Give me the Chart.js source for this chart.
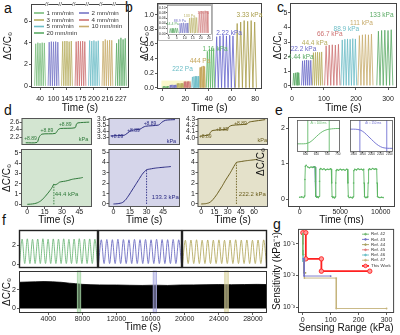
<!DOCTYPE html>
<html>
<head>
<meta charset="utf-8">
<script src="https://cdn.jsdelivr.net/npm/chart.js@4/dist/chart.umd.min.js"></script>
<style>
  html, body { margin: 0; padding: 0; background: #fff; }
  #fig { position: relative; width: 400px; height: 335px; overflow: hidden; font-family: 'Liberation Sans', Arial, sans-serif; }
  #fig canvas { position: absolute; }
  .lt { position: absolute; font-size: 14px; line-height: 14px; color: #111; }
</style>
</head>
<body>
<div id="fig">
  <div class="lt" style="left:4px;top:1px">a</div>
  <div class="lt" style="left:125px;top:0px">b</div>
  <div class="lt" style="left:277px;top:0px">c</div>
  <div class="lt" style="left:4px;top:103px">d</div>
  <div class="lt" style="left:275px;top:103px">e</div>
  <div class="lt" style="left:2px;top:213px">f</div>
  <div class="lt" style="left:273px;top:217px">g</div>
</div>
<script>
// ---------- data ----------
// a: loading speed
const aSpeeds = ['1 mm/min', '2 mm/min', '3 mm/min', '4 mm/min', '5 mm/min', '10 mm/min', '20 mm/min'];
const aTimeTicks = ['40', '100', '145', '175', '200', '216', '227'];
const aPeaks = [
  [3.9, 4.0, 3.95, 4.0, 3.98],
  [4.05, 4.1, 4.08, 4.1, 4.05],
  [4.12, 4.15, 4.15, 4.1, 4.15],
  [4.1, 4.15, 4.12, 4.15, 4.1],
  [4.2, 4.15, 4.2, 4.12, 4.18],
  [4.15, 4.3, 4.2, 4.25, 4.22],
  [3.95, 4.3, 4.45, 4.3, 4.4]
];
const aFloor = 0.02;

// b: low pressures
const bLoads = ['44.4 Pa', '88.9 Pa', '133 Pa', '178 Pa', '222 Pa', '444 Pa', '1.11 kPa', '2.22 kPa', '3.33 kPa'];
const bStart = [0.5, 6.5, 12.5, 18.5, 25.5, 32, 38, 45.5, 63];
const bPeriod = [1.1, 1.1, 1.1, 1.2, 1.2, 1.3, 1.8, 2.8, 3.0];
const bPeaks = [
  [0.02, 0.021, 0.02, 0.022, 0.021],
  [0.04, 0.041, 0.042, 0.04, 0.041],
  [0.06, 0.062, 0.061, 0.063, 0.062],
  [0.085, 0.087, 0.086, 0.088, 0.087],
  [0.15, 0.155, 0.16, 0.158, 0.16],
  [0.28, 0.29, 0.3, 0.29],
  [0.5, 0.53, 0.55, 0.54],
  [0.7, 0.71, 0.72, 0.71, 0.72, 0.71],
  [0.88, 0.9, 0.92, 0.91, 0.92, 0.9]
];

// c: high pressures
const cLoads = ['4.44 kPa', '22.2 kPa', '44.4 kPa', '66.7 kPa', '88.9 kPa', '111 kPa', '133 kPa'];
const cStart = [3, 30, 64, 102, 153, 206, 265];
const cPeriod = [5.25, 6.4, 6.4, 9.6, 8.2, 9.4, 10];
const cPeaks = [
  [0.88, 0.9, 0.92, 0.9],
  [1.72, 1.75, 1.78, 1.75, 1.76],
  [2.28, 2.3, 2.32, 2.3, 2.33],
  [2.75, 2.8, 2.82, 2.8, 2.85],
  [3.15, 3.2, 3.22, 3.2, 3.24, 3.22],
  [3.45, 3.5, 3.52, 3.5, 3.55],
  [3.75, 3.8, 3.82, 3.8, 3.85]
];

// d: detection limit at three preloads
const dLoads = ['44.4 kPa', '133.3 kPa', '222.2 kPa'];
const dStepLabel = '+8.89';
const dThresh = [23, 30, 40];
const dThreshY = [1.95, 3.3, 4.0];
const dTopX = [
  [6, 22, 25, 29, 48, 52, 55, 76, 78, 80, 96],
  [3, 22, 26, 32, 44, 48, 52, 70, 75, 80, 93],
  [4, 16, 19, 22, 42, 45, 49, 70, 73, 77, 96]
];
const dTopY = [
  [2.05, 2.06, 2.2, 2.28, 2.3, 2.4, 2.43, 2.45, 2.55, 2.58, 2.6],
  [3.32, 3.33, 3.36, 3.41, 3.43, 3.46, 3.48, 3.5, 3.55, 3.58, 3.59],
  [4.03, 4.05, 4.1, 4.12, 4.14, 4.18, 4.2, 4.22, 4.25, 4.26, 4.29]
];
const dTime = [
  [0, 3, 6, 9, 12, 15, 18, 21, 23, 24, 26, 28, 30, 33, 36, 38, 40, 43, 46, 48],
  [0, 4, 8, 11, 14, 17, 20, 23, 26, 28, 30, 33, 36, 40, 44, 48, 52],
  [0, 5, 9, 12, 15, 18, 21, 24, 27, 30, 33, 36, 38, 40, 45, 50, 55, 60, 64]
];
const dResp = [
  [0, 0.02, 0.06, 0.16, 0.36, 0.7, 1.1, 1.55, 1.95, 1.88, 1.98, 2.15, 2.2, 2.25, 2.33, 2.4, 2.45, 2.5, 2.55, 2.6],
  [0, 0.03, 0.13, 0.4, 0.85, 1.35, 1.85, 2.35, 2.85, 3.1, 3.3, 3.36, 3.42, 3.48, 3.52, 3.56, 3.6],
  [0, 0.03, 0.12, 0.3, 0.6, 0.95, 1.35, 1.75, 2.2, 2.6, 3.0, 3.45, 3.75, 4.0, 4.08, 4.15, 4.2, 4.25, 4.3]
];

// e: response / recovery
const eTime = [
  0, 250, 500, 600, 650, 700, 800, 1000, 1200, 1400, 1600, 1800, 1900, 1950, 2000, 2100, 2200, 2300,
  2400, 2450, 2500, 2600, 2800, 3000, 3200, 3400, 3600, 3800, 3900, 3950, 4000, 4100, 4200, 4300,
  4400, 4450, 4500, 4600, 4800, 5000, 5200, 5400, 5600, 5800, 5900, 5950, 6000, 6100, 6300, 6500,
  6600, 6650, 6700, 6800, 7000, 7200, 7400, 7600, 7800, 7900, 7950, 8000, 8100, 8200, 8300,
  8400, 8450, 8500, 8600, 8800, 9000, 9200, 9400, 9500, 9550, 9600, 9700, 9900, 10100, 10300
];
const eResp = [
  0.05, 0.06, 0.04, 0.08, 0.55, 0.92, 0.95, 0.9, 0.88, 0.9, 0.89, 0.91, 0.9, 0.5, 0.08, 0.05, 0.06, 0.04,
  0.07, 0.5, 0.84, 0.86, 0.83, 0.85, 0.82, 0.84, 0.83, 0.85, 0.84, 0.45, 0.07, 0.04, 0.05, 0.03,
  0.06, 0.45, 0.8, 0.83, 0.81, 0.84, 0.82, 0.83, 0.81, 0.84, 0.83, 0.45, 0.08, 0.04, 0.05, 0.03,
  0.06, 0.45, 0.8, 0.84, 0.82, 0.85, 0.83, 0.84, 0.82, 0.84, 0.45, 0.07, 0.04, 0.05, 0.04,
  0.06, 0.45, 0.82, 0.85, 0.83, 0.86, 0.84, 0.85, 0.84, 0.45, 0.07, 0.05, 0.04, 0.05, 0.04
];
const eFallT = [1600, 1800, 1900, 1950, 2000, 2100];
const eFallY = [0.89, 0.91, 0.9, 0.5, 0.08, 0.05];
const eRiseT = [560, 580, 600, 620, 640, 660, 680, 700, 720, 740, 760];
const eRiseY = [0.06, 0.06, 0.07, 0.15, 0.35, 0.58, 0.76, 0.86, 0.9, 0.92, 0.92];
const eRiseMarks = [610, 710];
const eDropT = [1880, 1900, 1920, 1940, 1960, 1980, 2000, 2020, 2040, 2060, 2080, 2100, 2120];
const eDropY = [0.9, 0.9, 0.89, 0.85, 0.75, 0.6, 0.45, 0.3, 0.18, 0.1, 0.07, 0.06, 0.06];
const eDropMarks = [1935, 2085];
const eInsetText = ['Δt ≈ 100 ms', 'Δt ≈ 150 ms'];

// f: long-term cycling
const fPeaks = [
  [2.62, 2.65, 2.6, 2.63, 2.66, 2.61, 2.64, 2.62, 2.65, 2.6, 2.63, 2.66, 2.62, 2.64, 2.61],
  [2.55, 2.58, 2.56, 2.6, 2.57, 2.55, 2.59, 2.56, 2.58, 2.55, 2.6, 2.57, 2.56, 2.58, 2.55],
  [2.5, 2.52, 2.55, 2.5, 2.53, 2.51, 2.54, 2.5, 2.52, 2.55, 2.51, 2.53, 2.5, 2.52, 2.54]
];
const fTrough = 0.05;
const fBandT = [560, 1500, 2500, 3500, 4500, 5500, 6500, 7200, 8000, 9000, 10000, 11000, 12000,
  13500, 15000, 16500, 18000, 19500, 21000, 22500, 24000, 25500, 27000, 28500, 29650];
const fBandTop = [2.85, 2.88, 2.9, 2.93, 2.9, 2.85, 2.75, 2.7, 2.62, 2.58, 2.56, 2.55, 2.55,
  2.52, 2.5, 2.53, 2.5, 2.55, 2.56, 2.58, 2.6, 2.58, 2.6, 2.62, 2.6];
const fFloor = -0.05;
const fMarks = [[7400, 7800], [16300, 16700], [24700, 25100]];

// g: sensitivity vs range
const gRefs = ['Ref. 42', 'Ref. 43', 'Ref. 44', 'Ref. 45', 'Ref. 46', 'Ref. 47', 'This Work'];
const gX = [
  [0.5, 0.5, 3],
  [2, 5, 5, 100],
  [4, 4, 10],
  [0.3, 0.3, 1.5],
  [1, 1, 6],
  [6, 6, 120, 120, 300],
  [0.4, 11, 11, 66.7, 66.7, 240]
];
const gY = [
  [0.2, 0.045, 0.045],
  [0.033, 0.033, 0.0095, 0.0095],
  [0.03, 0.012, 0.012],
  [0.21, 0.1, 0.1],
  [0.06, 0.028, 0.028],
  [0.03, 0.0082, 0.0082, 0.0009, 0.0009],
  [0.22, 0.22, 0.033, 0.033, 0.0135, 0.0135]
];
const gTicks = [0.001, 0.01, 0.1];
const gTickText = ['10⁻³', '10⁻²', '10⁻¹'];

// ---------- styles ----------
const FONT = "'Liberation Sans', Arial, sans-serif";
const C = { green: '#79bd7b', blue: '#7676c6', olive: '#b6ad5e', red: '#cd7272', cyan: '#6cbdc6', tan: '#c8ac6c', green2: '#5aaa64' };
const aColors = [C.green, C.blue, C.olive, C.red, C.cyan, C.tan, C.green2];
const bColors = [C.green2, C.blue, C.olive, C.red, C.cyan, '#c4a458', '#62b86a', '#6464cc', '#a89c48'];
const cColors = [C.green2, '#6a6ac8', C.olive, C.red, C.cyan, C.tan, C.green2];
const dLine = ['#2f7a3a', '#2c2c84', '#6b5e1e'];
const dBg = ['#d3e5d1', '#d5d5ea', '#e4e1ca'];
const fColors = ['#6fb87a', '#6c6cc2', '#b5ac63'];
const gColors = ['#72b872', '#7272c8', '#a8a060', '#e07a7a', '#6bbfc6', '#c4b27a', '#ff2020'];

Chart.defaults.font.family = FONT;
Chart.defaults.font.size = 7;
Chart.defaults.color = '#222';
Chart.defaults.animation = false;
Chart.defaults.responsive = false;
Chart.defaults.maintainAspectRatio = false;
Chart.defaults.events = [];
Chart.defaults.plugins.legend.display = false;
Chart.defaults.plugins.tooltip.enabled = false;
Chart.defaults.elements.point.radius = 0;
Chart.defaults.elements.line.borderWidth = 0.8;
Chart.defaults.elements.line.tension = 0;

// ---------- plugins ----------
const framePlugin = {
  id: 'frame',
  beforeDraw(chart, args, o) {
    const { ctx, chartArea: c } = chart;
    ctx.save();
    if (o.page) { ctx.fillStyle = o.page; ctx.fillRect(0, 0, chart.width, chart.height); }
    if (o.fill) { ctx.fillStyle = o.fill; ctx.fillRect(c.left, c.top, c.right - c.left, c.bottom - c.top); }
    ctx.restore();
  },
  afterDraw(chart, args, o) {
    const { ctx, chartArea: c } = chart;
    ctx.save();
    ctx.strokeStyle = o.color || '#333';
    ctx.lineWidth = o.width || 1;
    ctx.strokeRect(c.left + 0.5, c.top + 0.5, c.right - c.left - 1, c.bottom - c.top - 1);
    if (o.edge) {
      ctx.strokeStyle = o.edge;
      ctx.strokeRect(0.5, 0.5, chart.width - 1, chart.height - 1);
    }
    ctx.restore();
  }
};

function drawSpans(chart, o, over) {
  const { ctx, scales: { x, y }, chartArea: c } = chart;
  (o.items || []).filter(s => !!s.over === over).forEach(s => {
    const x0 = x.getPixelForValue(s.x0), x1 = x.getPixelForValue(s.x1);
    const yb = s.y0 == null ? c.bottom : y.getPixelForValue(s.y0);
    const yt = s.y1 == null ? c.top : y.getPixelForValue(s.y1);
    ctx.save();
    if (s.fill) { ctx.fillStyle = s.fill; ctx.fillRect(x0, yt, x1 - x0, yb - yt); }
    if (s.stroke) {
      ctx.strokeStyle = s.stroke;
      ctx.lineWidth = s.width || 0.8;
      ctx.strokeRect(x0, yt, x1 - x0, yb - yt);
    }
    ctx.restore();
  });
}
const spansPlugin = {
  id: 'spans',
  beforeDatasetsDraw(chart, args, o) { drawSpans(chart, o, false); },
  afterDatasetsDraw(chart, args, o) { drawSpans(chart, o, true); }
};

const notesPlugin = {
  id: 'notes',
  afterDraw(chart, args, o) {
    if (!o.items) return;
    const { ctx, scales } = chart;
    ctx.save();
    ctx.textBaseline = 'middle';
    o.items.forEach(n => {
      ctx.font = (n.size || 6.5) + 'px ' + FONT;
      ctx.textAlign = n.align || 'center';
      const px = scales.x.getPixelForValue(n.x), py = scales.y.getPixelForValue(n.y);
      if (n.bg) {
        const w = ctx.measureText(n.text).width;
        ctx.fillStyle = n.bg;
        ctx.fillRect(px - w / 2, py - 2, w, 4);
      }
      ctx.fillStyle = n.color || '#222';
      ctx.fillText(n.text, px, py);
    });
    ctx.restore();
  }
};

const keysPlugin = {
  id: 'keys',
  afterDraw(chart, args, o) {
    if (!o.at) return;
    const { ctx, chartArea: c } = chart;
    ctx.save();
    ctx.font = o.size + 'px ' + FONT;
    ctx.textBaseline = 'middle';
    ctx.textAlign = 'left';
    chart.data.datasets.forEach((ds, i) => {
      if (!o.at[i]) return;
      const x = c.left + o.at[i][0], y = c.top + o.at[i][1];
      ctx.strokeStyle = ds.borderColor;
      ctx.lineWidth = o.line || ds.borderWidth;
      ctx.beginPath(); ctx.moveTo(x, y); ctx.lineTo(x + o.len, y); ctx.stroke();
      if (ds.pointRadius) {
        ctx.fillStyle = ds.pointBackgroundColor || ds.borderColor;
        ctx.lineWidth = 0.8;
        ctx.beginPath(); ctx.arc(x + o.len / 2, y, Math.min(ds.pointRadius, 1.8), 0, Math.PI * 2);
        ctx.fill(); ctx.stroke();
      }
      ctx.fillStyle = '#333';
      ctx.fillText(ds.label, x + o.len + o.gap, y);
    });
    ctx.restore();
  }
};

Chart.register(framePlugin, spansPlugin, notesPlugin, keysPlugin);

// ---------- helpers ----------
function lin(min, max, ticks, ex) {
  ex = ex || {};
  const s = {
    type: ex.type || 'linear', min, max,
    display: ex.display !== false,
    afterBuildTicks: ax => { ax.ticks = (ticks || []).map(v => ({ value: v })); },
    grid: { display: true, drawOnChartArea: false, drawTicks: true, tickLength: ex.tl != null ? ex.tl : 2, color: '#333', lineWidth: 0.8 },
    border: { display: false },
    ticks: Object.assign({ font: { size: ex.fs || 7 }, color: '#222', autoSkip: false, maxRotation: 0, minRotation: 0, callback: v => String(v) }, ex.ticks || {})
  };
  if (ex.title) s.title = { display: true, text: ex.title, font: { size: 10 }, color: '#111', padding: 0 };
  return s;
}

function mount(cfg, box, lab) {
  const [l, t, r, b] = box;
  const sx = cfg.options.scales.x, sy = cfg.options.scales.y;
  const cv = lab.canvas || [
    lab.yTitle != null ? lab.yTitle - 6 : (lab.yTick != null ? lab.yTick - 15 : l - 1),
    t - (lab.top != null ? lab.top : 4),
    r + (lab.right != null ? lab.right : 6),
    lab.xTitle != null ? lab.xTitle + 6 : (lab.xTick != null ? lab.xTick + 5 : b + 1)
  ];
  const L = l - cv[0], T = t - cv[1], R = cv[2] - r, B = cv[3] - b;
  const el = document.createElement('canvas');
  el.width = cv[2] - cv[0];
  el.height = cv[3] - cv[1];
  el.style.left = cv[0] + 'px';
  el.style.top = cv[1] + 'px';
  document.getElementById('fig').appendChild(el);
  const zero = ax => { ax.paddingTop = ax.paddingBottom = ax.paddingLeft = ax.paddingRight = 0; };
  const pad = { left: L, top: T, right: R, bottom: B };
  if (sy.display) {
    pad.left = 0;
    sy.ticks.padding = l - sy.grid.tickLength - lab.yTick;
    sy.afterFit = ax => { ax.width = L; zero(ax); };
  }
  if (sx.display) {
    pad.bottom = 0;
    sx.ticks.padding = lab.xTick - b - sx.grid.tickLength - sx.ticks.font.size * 0.6;
    sx.afterFit = ax => { ax.height = B; zero(ax); };
  }
  cfg.options.layout = { padding: pad };
  return new Chart(el, cfg);
}

// one triangular loading cycle per read peak, cycles back to back
function spikes(peaks, start, period, floor) {
  const pts = [];
  peaks.forEach((p, k) => {
    const t = start + k * period;
    pts.push({ x: t, y: floor }, { x: t + period / 2, y: p });
  });
  pts.push({ x: start + peaks.length * period, y: floor });
  return pts;
}
const pairs = (xs, ys) => xs.map((x, i) => ({ x, y: ys[i] }));
const fmt1 = v => v.toFixed(1);

// ---------- a ----------
const aTickAt = aTimeTicks.map((_, i) => i + 0.5);
const aYMax = 7.57;
mount({
  type: 'line',
  data: {
    datasets: aPeaks.map((pk, g) => ({
      label: aSpeeds[g], data: spikes(pk, g + 0.1, 0.16, aFloor), borderColor: aColors[g]
    }))
  },
  options: {
    scales: {
      x: lin(-0.17, 7.1, aTickAt, { ticks: { callback: (v, i) => aTimeTicks[i] }, title: 'Time (s)' }),
      y: lin(-0.18, aYMax, [0, 2, 4, 6], { title: 'ΔC/C₀' })
    },
    plugins: {
      frame: { color: '#444' },
      keys: { at: [[3, 9], [48, 9], [3, 16], [48, 16], [3, 22.5], [48, 22.5], [3, 29]], len: 10, gap: 2.5, size: 6.2, line: 1.6 },
      notes: { items: [1, 2, 3, 4, 5, 6].map(i => ({ x: i, y: aYMax, text: '//', size: 6, color: '#333', bg: '#fff' })) }
    }
  }
}, [31, 4, 129, 88], { yTick: 28, yTitle: 8, xTick: 99, xTitle: 108 });

// ---------- b ----------
const bLabelAt = [null, null, null, null, [17.6, 0.25], [32.6, 0.37], [45.5, 0.53], [57.5, 0.75], [75, 0.99]];
mount({
  type: 'line',
  data: {
    datasets: bPeaks.map((pk, i) => ({
      label: bLoads[i], data: spikes(pk, bStart[i], bPeriod[i], 0.003), borderColor: bColors[i]
    }))
  },
  options: {
    scales: {
      x: lin(-4.3, 85.8, [0, 20, 40, 60, 80], { title: 'Time (s)' }),
      y: lin(-0.015, 1.16, [0, 0.2, 0.4, 0.6, 0.8, 1.0], { ticks: { callback: fmt1 }, title: 'ΔC/C₀' })
    },
    plugins: {
      frame: { color: '#444' },
      spans: { items: [{ x0: -0.5, x1: 25, y0: -0.01, y1: 0.1, fill: 'rgba(250,246,190,0.8)' }] },
      notes: { items: bLabelAt.map((p, i) => p && ({ x: p[0], y: p[1], text: bLoads[i], color: bColors[i], size: 6.5 })).filter(Boolean) }
    }
  }
}, [157, 3, 262, 89], { yTick: 154, yTitle: 145, xTick: 99, xTitle: 108 });

// b inset: the first four loads
const bInsetAt = [[2.5, 0.036], [7, 0.047], [13, 0.067], [21.5, 0.08]];
mount({
  type: 'line',
  data: {
    datasets: bPeaks.slice(0, 4).map((pk, i) => ({
      label: bLoads[i], data: spikes(pk, bStart[i], bPeriod[i], 0.003), borderColor: bColors[i], borderWidth: 0.6
    }))
  },
  options: {
    scales: {
      x: lin(-1, 27, [0, 5, 10, 15, 20, 25], { fs: 3.4, tl: 1 }),
      y: lin(-0.005, 0.11, [0, 0.02, 0.04, 0.06, 0.08, 0.10], { fs: 3.4, tl: 1, ticks: { callback: v => v.toFixed(2) } })
    },
    plugins: {
      frame: { page: '#fff', edge: '#888', color: '#777', width: 0.6 },
      notes: { items: bInsetAt.map((p, i) => ({ x: p[0], y: p[1], text: bLoads[i], color: bColors[i], size: 3.6 })) }
    }
  }
}, [167, 5, 212, 35], { canvas: [158, 4, 213, 41], yTick: 165.6, xTick: 38 });

// ---------- c ----------
const cLabelAt = [[28, 2.0], [36, 2.55], [71, 2.95], [118, 3.56], [170, 3.9], [217, 4.3], [280, 4.86]];
mount({
  type: 'line',
  data: {
    datasets: cPeaks.map((pk, i) => ({
      label: cLoads[i], data: spikes(pk, cStart[i], cPeriod[i], 0.04), borderColor: cColors[i]
    }))
  },
  options: {
    scales: {
      x: lin(-6, 328, [0, 100, 200, 300], { title: 'Time (s)' }),
      y: lin(-0.14, 5.68, [0, 1, 2, 3, 4, 5], { title: 'ΔC/C₀' })
    },
    plugins: {
      frame: { color: '#444' },
      notes: { items: cLabelAt.map((p, i) => ({ x: p[0], y: p[1], text: cLoads[i], color: cColors[i], size: 6.5 })) }
    }
  }
}, [290, 3, 397, 88], { yTick: 287.5, yTitle: 278, xTick: 99, xTitle: 108 });

// ---------- d ----------
const dCols = [
  { l: 21, r: 92, top: [1.99, 2.71, [2.2, 2.4, 2.6]], xr: [-5.45, 56, [0, 15, 30, 45]], bot: [-0.26, 5.36] },
  { l: 108, r: 180, top: [3.167, 3.617, [3.3, 3.4, 3.5, 3.6]], xr: [-4.5, 60.3, [0, 15, 30, 45]], bot: [-0.29, 5.29] },
  { l: 197, r: 268, top: [3.889, 4.316, [4.0, 4.1, 4.2, 4.3]], xr: [-4.2, 75.8, [0, 15, 30, 45, 60]], bot: [-0.29, 5.29] }
];
const dStepAt = [
  [[12.7, 2.17], [36, 2.38], [62, 2.54], [88, 2.14]],
  [[12, 3.305], [35, 3.41], [58, 3.52], [88, 3.23]],
  [[11, 4.02], [35, 4.13], [61, 4.23], [92, 3.96]]
];
const dLoadAt = [[34, 0.95], [47, 0.6], [58, 0.95]];
dCols.forEach((col, i) => {
  mount({
    type: 'line',
    data: { datasets: [{ data: pairs(dTopX[i], dTopY[i]), borderColor: dLine[i], borderWidth: 1, tension: 0.25 }] },
    options: {
      scales: {
        x: lin(0, 100, [], { display: false }),
        y: lin(col.top[0], col.top[1], col.top[2], { fs: 6.5, ticks: { callback: fmt1 } })
      },
      plugins: {
        frame: { fill: dBg[i], color: '#555' },
        notes: {
          items: dStepAt[i].map((p, k) => ({
            x: p[0], y: p[1], text: k < 3 ? dStepLabel : 'kPa', color: dLine[i], size: k < 3 ? 5 : 5.5
          }))
        }
      }
    }
  }, [col.l, 118, col.r, 145], { yTick: col.l - 2.5, top: 4, right: 3 });

  mount({
    type: 'line',
    data: {
      datasets: [
        { data: pairs(dTime[i], dResp[i]), borderColor: dLine[i], borderWidth: 1, tension: 0.2 },
        { data: [{ x: dThresh[i], y: 0 }, { x: dThresh[i], y: dThreshY[i] }], borderColor: dLine[i], borderWidth: 0.9, borderDash: [1.5, 1.2] }
      ]
    },
    options: {
      scales: {
        x: lin(col.xr[0], col.xr[1], col.xr[2], { title: 'Time (s)' }),
        y: lin(col.bot[0], col.bot[1], [0, 1, 2, 3, 4, 5], i === 0 ? { title: 'ΔC/C₀' } : {})
      },
      plugins: {
        frame: { fill: dBg[i], color: '#555' },
        notes: { items: [{ x: dLoadAt[i][0], y: dLoadAt[i][1], text: dLoads[i], color: dLine[i], size: 6 }] }
      }
    }
  }, [col.l, 149, col.r, 207], i === 0 ? { yTick: col.l - 2.5, yTitle: 7, xTick: 212, xTitle: 220, top: 2, right: 3 }
                                        : { yTick: col.l - 2.5, xTick: 212, xTitle: 220, top: 2, right: 3 });
});

// ---------- e ----------
mount({
  type: 'line',
  data: {
    datasets: [
      { data: pairs(eTime, eResp), borderColor: '#5db764', borderWidth: 0.9, pointRadius: 0.8, pointBackgroundColor: '#5db764', pointBorderWidth: 0 },
      { data: pairs(eFallT, eFallY), borderColor: '#6a6ad0', borderWidth: 1.1 }
    ]
  },
  options: {
    scales: {
      x: lin(-1440, 11760, [0, 5000, 10000], { title: 'Time (ms)' }),
      y: lin(-0.225, 2.31, [0, 1, 2], { title: 'ΔC/C₀' })
    },
    plugins: { frame: { color: '#444' } }
  }
}, [288, 117, 398, 207], { yTick: 285, yTitle: 261, xTick: 212, xTitle: 220, right: 1 });

function eInset(xs, ys, marks, color, range, ticks, text, box) {
  mount({
    type: 'line',
    data: { datasets: [{ data: pairs(xs, ys), borderColor: color, borderWidth: 0.9, tension: 0.3 }] },
    options: {
      scales: {
        x: lin(range[0], range[1], ticks, { fs: 3, tl: 1 }),
        y: lin(range[2], range[3], [], { display: false })
      },
      plugins: {
        frame: { page: '#fff', color: '#555', width: 0.8 },
        spans: { items: marks.map(m => ({ x0: m, x1: m, stroke: color, width: 0.5 })) },
        notes: { items: [{ x: (marks[0] + marks[1]) / 2, y: range[3] - (range[3] - range[2]) * 0.1, text, color, size: 3 }] }
      }
    }
  }, box, { canvas: [box[0] - 1, box[1] - 1, box[2] + 1, box[3] + 5], xTick: box[3] + 2.6 });
}
eInset(eRiseT, eRiseY, eRiseMarks, '#5db764', [560, 760, -0.4, 1.4], [600, 650, 700, 750], eInsetText[0], [297, 120, 340, 152]);
eInset(eDropT, eDropY, eDropMarks, '#6a6ad0', [1880, 2120, -0.1, 1.3], [1900, 1950, 2000, 2050, 2100], eInsetText[1], [350, 120, 393, 152]);

// ---------- f ----------
const fStrips = [[19, 98], [98, 182], [182, 267]];
fStrips.forEach((s, i) => {
  const pts = [];
  fPeaks[i].forEach((p, k) => { pts.push({ x: k, y: fTrough }, { x: k + 0.5, y: p }); });
  pts.push({ x: fPeaks[i].length, y: fTrough });
  mount({
    type: 'line',
    data: { datasets: [{ data: pts, borderColor: fColors[i], borderWidth: 0.9, cubicInterpolationMode: 'monotone' }] },
    options: {
      scales: {
        x: lin(-0.1, 15.1, [], { display: false }),
        y: i === 0 ? lin(-0.42, 3.58, [0, 2], {}) : lin(-0.42, 3.58, [], { display: false })
      },
      plugins: { frame: { color: '#222', width: 1.4 } }
    }
  }, [s[0], 230, s[1], 268], i === 0 ? { yTick: 16, top: 3, right: 1 } : { top: 3, right: 1 });
});

const fMarkStyle = [['rgba(160,215,160,0.55)', '#a6d6a6'], ['rgba(170,170,230,0.55)', '#a8a8de'], ['rgba(220,214,160,0.6)', '#d6cf96']];
mount({
  type: 'line',
  data: {
    datasets: [{ data: pairs(fBandT, fBandTop), borderColor: '#000', borderWidth: 0.8, backgroundColor: '#000', fill: { value: fFloor } }]
  },
  options: {
    scales: {
      x: lin(560, 29650, [4000, 8000, 12000, 16000, 20000, 24000, 28000], { title: 'Time (s)' }),
      y: lin(-0.55, 4.1, [0, 2], { title: 'ΔC/C₀' })
    },
    plugins: {
      frame: { color: '#333' },
      spans: { items: fMarks.map((m, i) => ({ x0: m[0], x1: m[1], fill: fMarkStyle[i][0], stroke: fMarkStyle[i][1], width: 0.8, over: true })) }
    }
  }
}, [19, 271, 267, 313], { yTick: 16, yTitle: 7, xTick: 319, xTitle: 327, top: 1 });

// ---------- g ----------
mount({
  type: 'line',
  data: {
    datasets: gRefs.map((name, i) => {
      const mine = i === gRefs.length - 1;
      return {
        label: name, data: pairs(gX[i], gY[i]), borderColor: gColors[i],
        borderWidth: mine ? 1.8 : 0.9,
        pointRadius: mine ? 2.2 : 0.9,
        pointBackgroundColor: mine ? '#ff9a9a' : gColors[i],
        pointBorderColor: gColors[i], pointBorderWidth: mine ? 0.9 : 0
      };
    })
  },
  options: {
    scales: {
      x: lin(-17, 327, [0, 100, 200, 300], { title: 'Sensing Range (kPa)' }),
      y: lin(0.00065, 0.29, gTicks, { type: 'logarithmic', ticks: { callback: (v, i) => gTickText[i] }, title: 'Sensitivity (kPa⁻¹)' })
    },
    plugins: {
      frame: { color: '#444' },
      keys: { at: [[64, 5.3], [64, 10.5], [64, 15.7], [64, 20.9], [64, 26.1], [64, 31.3], [64, 37]], len: 7, gap: 2, size: 4.4 }
    }
  }
}, [298, 228, 398, 313], { yTick: 295, yTitle: 277, xTick: 320, xTitle: 328, right: 1 });
</script>
</body>
</html>
